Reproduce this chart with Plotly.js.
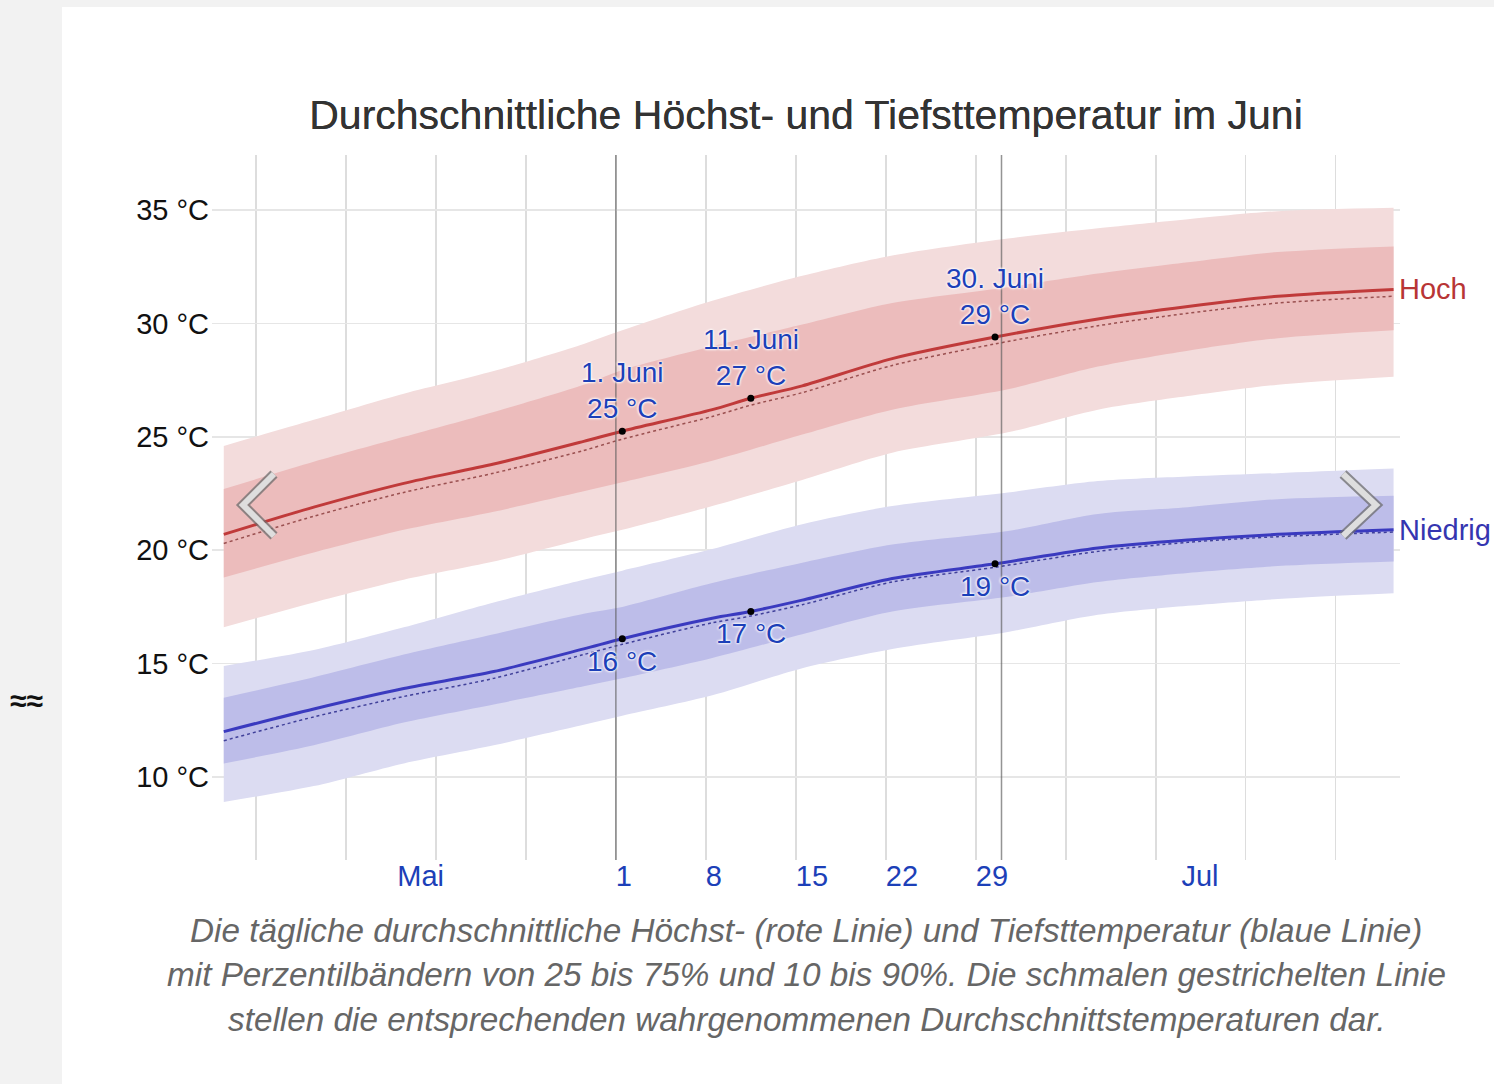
<!DOCTYPE html>
<html>
<head>
<meta charset="utf-8">
<script src="https://cdn.plot.ly/plotly-3.0.1.min.js"></script>
<style>
  html, body { margin: 0; padding: 0; background: #f2f2f2; width: 1494px; height: 1084px; overflow: hidden; }
  #chart { position: absolute; left: 62px; top: 7px; width: 1432px; height: 1077px; background: #fff; }
  #approx { position: absolute; left: 10px; top: 684px; font: bold 30px "Liberation Sans", Arial, sans-serif; color: #111; }
</style>
</head>
<body>
<div id="approx">≈≈</div>
<div id="chart"></div>
<script>
// ---- data ----
const bandDates = ['2023-05-01 12:00','2023-05-08 12:00','2023-05-15 12:00','2023-05-22 12:00','2023-05-29 12:00',
  '2023-06-01 12:00','2023-06-08 12:00','2023-06-15 12:00','2023-06-22 12:00','2023-07-01 12:00',
  '2023-07-08 12:00','2023-07-15 12:00','2023-07-22 12:00','2023-07-31 12:00'];
const hiP10 = [16.6, 17.7, 18.7, 19.5, 20.5, 20.9, 21.95, 23.1, 24.3, 25.2, 26.2, 26.8, 27.3, 27.65];
const hiP25 = [18.8, 19.9, 20.9, 21.7, 22.6, 23.0, 23.95, 25.1, 26.2, 27.1, 28.1, 28.8, 29.35, 29.7];
const hiP75 = [22.7, 23.9, 25.0, 26.1, 27.3, 27.95, 29.0, 29.95, 30.9, 31.6, 32.2, 32.7, 33.15, 33.4];
const hiP90 = [24.6, 25.75, 26.9, 27.9, 29.1, 29.7, 31.0, 32.1, 33.0, 33.75, 34.2, 34.6, 34.95, 35.1];
const loP10 = [8.9, 9.6, 10.6, 11.4, 12.3, 12.7, 13.6, 14.8, 15.65, 16.4, 17.15, 17.55, 17.85, 18.1];
const loP25 = [10.6, 11.4, 12.4, 13.2, 14.0, 14.35, 15.25, 16.3, 17.3, 17.95, 18.6, 19.0, 19.3, 19.5];
const loP75 = [13.5, 14.4, 15.4, 16.3, 17.2, 17.5, 18.55, 19.45, 20.25, 20.85, 21.6, 21.9, 22.25, 22.4];
const loP90 = [14.9, 15.6, 16.6, 17.7, 18.7, 19.1, 20.05, 21.15, 21.95, 22.55, 23.05, 23.25, 23.4, 23.6];

const lineDates = ['2023-05-01 12:00','2023-05-08 12:00','2023-05-15 12:00','2023-05-22 12:00','2023-05-29 12:00',
  '2023-06-01 12:00','2023-06-08 12:00','2023-06-11 12:00','2023-06-15 12:00','2023-06-22 12:00','2023-06-30 12:00',
  '2023-07-08 12:00','2023-07-15 12:00','2023-07-22 12:00','2023-07-31 12:00'];
const hiAvg   = [20.7, 21.9, 22.95, 23.8, 24.8, 25.25, 26.2, 26.7, 27.25, 28.45, 29.4, 30.2, 30.75, 31.2, 31.5];
const hiFeels = [20.3, 21.5, 22.55, 23.4, 24.4, 24.9, 25.9, 26.4, 26.95, 28.15, 29.1, 29.9, 30.45, 30.9, 31.2];
const loAvg   = [12.0, 13.0, 13.9, 14.65, 15.65, 16.1, 17.0, 17.3, 17.8, 18.75, 19.4, 20.1, 20.45, 20.7, 20.9];
const loFeels = [11.6, 12.65, 13.55, 14.35, 15.4, 15.85, 16.8, 17.1, 17.6, 18.6, 19.25, 19.95, 20.35, 20.6, 20.8];

const markedIdx = [5, 7, 10];            // 1., 11., 30. Juni
const markedDay = [1, 11, 30];
const weekGrid = ['2023-05-04','2023-05-11','2023-05-18','2023-05-25','2023-06-01','2023-06-08','2023-06-15',
  '2023-06-22','2023-06-29','2023-07-06','2023-07-13','2023-07-20','2023-07-27'];
const labelVals = ['2023-05-15','2023-06-01','2023-06-08','2023-06-15','2023-06-22','2023-06-29','2023-07-15'];
const labelText = ['Mai','1','8','15','22','29','Jul'];
const monthBounds = ['2023-06-01','2023-07-01'];
const seriesNames = ['Hoch','Niedrig'];
const titleText = 'Durchschnittliche Höchst- und Tiefsttemperatur im Juni';
const captionLines = [
  'Die tägliche durchschnittliche Höchst- (rote Linie) und Tiefsttemperatur (blaue Linie)',
  'mit Perzentilbändern von 25 bis 75% und 10 bis 90%. Die schmalen gestrichelten Linie',
  'stellen die entsprechenden wahrgenommenen Durchschnittstemperaturen dar.'
];

// ---- styles ----
const FONT = '"Liberation Sans", Arial, Helvetica, sans-serif';
const C = {
  hiOuter: '#f3dcdc', hiInner: '#ecbcbc', hiLine: '#c03a3a', hiDot: '#9a5050',
  loOuter: '#dcdcf2', loInner: '#bdbde9', loLine: '#3a3abf', loDot: '#40409a',
  label: '#1c40b8'
};
const SP = {shape: 'spline', smoothing: 0.8};

function band(lo, hi, color) {
  return [
    {x: bandDates, y: lo, type: 'scatter', mode: 'lines', line: Object.assign({width: 0, color: color}, SP), hoverinfo: 'skip', showlegend: false},
    {x: bandDates, y: hi, type: 'scatter', mode: 'lines', fill: 'tonexty', fillcolor: color, line: Object.assign({width: 0, color: color}, SP), hoverinfo: 'skip', showlegend: false}
  ];
}
function line(y, color, width, dash) {
  return {x: lineDates, y: y, type: 'scatter', mode: 'lines', line: Object.assign({width: width, color: color, dash: dash}, SP), showlegend: false, hoverinfo: 'skip'};
}

const traces = [].concat(
  band(hiP10, hiP90, C.hiOuter),
  band(hiP25, hiP75, C.hiInner),
  band(loP10, loP90, C.loOuter),
  band(loP25, loP75, C.loInner),
  [line(hiFeels, C.hiDot, 1.5, 'dot'), line(hiAvg, C.hiLine, 3, 'solid'),
   line(loFeels, C.loDot, 1.5, 'dot'), line(loAvg, C.loLine, 3, 'solid')],
  [{
    x: markedIdx.map(i => lineDates[i]).concat(markedIdx.map(i => lineDates[i])),
    y: markedIdx.map(i => hiAvg[i]).concat(markedIdx.map(i => loAvg[i])),
    xaxis: 'x2', type: 'scatter', mode: 'markers', marker: {color: '#000', size: 7},
    showlegend: false, hoverinfo: 'skip'
  }]
);

// ---- geometry helpers (page pixels -> paper units) ----
const PLOT = {l: 212, r: 1400, t: 155, b: 860};
const px = x => (x - PLOT.l) / (PLOT.r - PLOT.l);
const py = y => (PLOT.b - y) / (PLOT.b - PLOT.t);
function chevron(pts) {
  const d = 'M' + pts.map(p => px(p[0]) + ',' + py(p[1])).join(' L');
  return [
    {type: 'path', xref: 'paper', yref: 'paper', path: d, line: {color: 'rgba(110,110,110,0.75)', width: 10}, layer: 'above'},
    {type: 'path', xref: 'paper', yref: 'paper', path: d, line: {color: '#dedede', width: 6}, layer: 'above'}
  ];
}

const shapes = monthBounds.map(d => ({
  type: 'line', xref: 'x', yref: 'paper', x0: d, x1: d, y0: 0, y1: 1,
  line: {color: 'rgba(90,90,90,0.65)', width: 1.5}, layer: 'above'
})).concat(
  chevron([[274, 474], [243, 505], [274, 536]]),
  chevron([[1343, 474], [1376, 505], [1343, 536]])
);

const halo = '0 0 3px #fff, 0 0 3px #fff, 0 0 2px #fff';
const annotations = [];
markedIdx.forEach((i, k) => {
  annotations.push({
    x: lineDates[i], y: hiAvg[i], xref: 'x', yref: 'y', showarrow: false,
    text: markedDay[k] + '. Juni<br>' + Math.round(hiAvg[i]) + ' °C',
    yanchor: 'bottom', yshift: 5, xanchor: 'center',
    font: {family: FONT, size: 28, color: C.label, shadow: halo}
  });
  annotations.push({
    x: lineDates[i], y: loAvg[i], xref: 'x', yref: 'y', showarrow: false,
    text: Math.round(loAvg[i]) + ' °C',
    yanchor: 'top', yshift: -5, xanchor: 'center',
    font: {family: FONT, size: 28, color: C.label, shadow: halo}
  });
});
const last = lineDates.length - 1;
annotations.push({x: lineDates[last], y: hiAvg[last], xref: 'x', yref: 'y', showarrow: false, text: seriesNames[0],
  xanchor: 'left', xshift: 3, font: {family: FONT, size: 29, color: '#b83535'}});
annotations.push({x: lineDates[last], y: loAvg[last], xref: 'x', yref: 'y', showarrow: false, text: seriesNames[1],
  xanchor: 'left', xshift: 3, font: {family: FONT, size: 29, color: '#3535b0'}});
captionLines.forEach((t, k) => {
  annotations.push({x: 0.5, y: py(930 + 45 * k), xref: 'paper', yref: 'paper', showarrow: false, text: t,
    xanchor: 'center', yanchor: 'middle', font: {family: FONT, size: 33.3, color: '#666', style: 'italic'}});
});

const xRange = ['2023-04-30 14:00', '2023-08-01 00:00'];
const layout = {
  width: 1432, height: 1077,
  margin: {l: 150, r: 94, t: 148, b: 224, pad: 0},
  paper_bgcolor: '#fff', plot_bgcolor: '#fff',
  showlegend: false,
  title: {text: titleText, x: 0.5, xref: 'paper', xanchor: 'center', y: 1 - 108 / 1077, yref: 'container', yanchor: 'middle',
    font: {family: FONT, size: 41, color: '#333', shadow: '0 0 0.6px #333'}},
  xaxis: {type: 'date', range: xRange, tickmode: 'array', tickvals: weekGrid, showticklabels: false,
    showgrid: true, gridcolor: '#dddddd', gridwidth: 1.5, zeroline: false, showline: false, ticks: '', fixedrange: true},
  xaxis2: {type: 'date', range: xRange, overlaying: 'x', anchor: 'y', side: 'bottom', tickmode: 'array',
    tickvals: labelVals, ticktext: labelText, showgrid: false, zeroline: false, showline: false, ticks: '',
    ticklabelposition: 'outside right', ticklabelstandoff: -4,
    tickfont: {family: FONT, size: 29, color: C.label}, fixedrange: true},
  yaxis: {range: [6.34, 37.43], tickmode: 'linear', tick0: 10, dtick: 5, ticksuffix: ' °C',
    tickfont: {family: FONT, size: 29, color: '#111'}, showgrid: true, gridcolor: '#e6e6e6', gridwidth: 1.5,
    ticklabelstandoff: 2,
    zeroline: false, showline: false, ticks: '', fixedrange: true},
  shapes: shapes,
  annotations: annotations
};

Plotly.newPlot('chart', traces, layout, {displayModeBar: false, staticPlot: true});
</script>
</body>
</html>
